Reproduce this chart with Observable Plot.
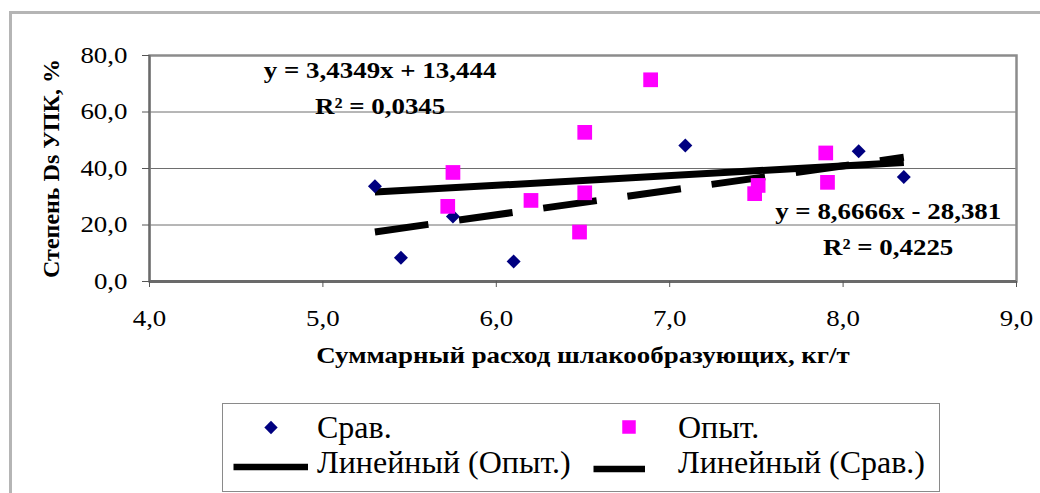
<!DOCTYPE html>
<html>
<head>
<meta charset="utf-8">
<script src="https://cdn.jsdelivr.net/npm/d3@7"></script>
<script src="https://cdn.jsdelivr.net/npm/@observablehq/plot@0.6"></script>
<style>
  html, body { margin: 0; padding: 0; background: #fff; }
  body { width: 1040px; height: 493px; position: relative; overflow: hidden;
         font-family: "Liberation Serif", "Times New Roman", serif; }
  #frame { position: absolute; left: 9px; top: 11px; width: 1100px; height: 600px;
           border: 3px solid #b5b5b5; box-sizing: border-box; }
  #chart { position: absolute; left: 0; top: 0; }
  #legend { position: absolute; left: 222px; top: 403px; width: 718px; height: 89px;
            border: 1px solid #8a8a8a; box-sizing: border-box; background: #fff; }
</style>
</head>
<body>
<div id="frame"></div>
<div id="chart"></div>
<div id="legend"></div>
<script>
// Series: total slag-former consumption (kg/t) vs. degree of Ds removal (%)
const seriesNames  = ["Срав.", "Опыт."];
const seriesColors = ["#000080", "#ff00ff"];

const sravX = [5.30, 5.45, 5.75, 6.10, 7.09, 8.09, 8.35];
const sravY = [33.7, 8.4, 23.0, 7.1, 48.1, 46.1, 37.0];

const opytX = [5.72, 5.75, 6.20, 6.48, 6.51, 6.51, 6.89, 7.49, 7.51, 7.90, 7.91];
const opytY = [26.6, 38.6, 28.7, 17.5, 31.4, 52.8, 71.4, 31.1, 34.0, 45.5, 35.1];

// Linear trend lines (Excel-style), first solid, second dashed
const trendNames      = ["Линейный (Опыт.)", "Линейный (Срав.)"];
const trendSlopes     = [3.4349, 8.6666];
const trendIntercepts = [13.444, -28.381];
const trendR2         = [0.0345, 0.4225];
const trendXRange     = [5.3, 8.35];

const xTicks = [4, 5, 6, 7, 8, 9];
const yTicks = [0, 20, 40, 60, 80];

const xTitle = "Суммарный расход шлакообразующих, кг/т";
const yTitle = "Степень Ds УПК, %";

// Helpers
const comma = v => String(v).replace(".", ",");
const tick1 = v => v.toFixed(1).replace(".", ",");
const equation = i => {
  const b = trendIntercepts[i];
  return `y = ${comma(trendSlopes[i])}x ${b < 0 ? "-" : "+"} ${comma(Math.abs(b))}\nR² = ${comma(trendR2[i])}`;
};

const sravData = sravX.map((x, i) => ({x, y: sravY[i]}));
const opytData = opytX.map((x, i) => ({x, y: opytY[i]}));
const trendLine = i => trendXRange.map(x => ({x, y: trendSlopes[i] * x + trendIntercepts[i]}));

const serif = "'Liberation Serif', 'Times New Roman', serif";

const chart = Plot.plot({
  width: 1040,
  height: 493,
  marginLeft: 149,
  marginRight: 24,
  marginTop: 55,
  marginBottom: 212,
  style: {fontSize: "23px", background: "transparent", color: "#000"},
  x: {domain: [4, 9]},
  y: {domain: [0, 80]},
  marks: [
    Plot.gridY(yTicks, {stroke: "#6e6e6e", strokeOpacity: 1, strokeWidth: 1}),
    Plot.frame({stroke: "#8c8c8c", strokeWidth: 2.5}),
    Plot.ruleX([4], {stroke: "#6a6a6a", strokeWidth: 2}),
    Plot.ruleY([0], {stroke: "#6a6a6a", strokeWidth: 3}),
    Plot.axisY(yTicks, {tickSize: 7, tickPadding: 15, tickFormat: tick1, label: null,
                        stroke: "#555", fontSize: 23, fill: "#000"}),
    Plot.axisX(xTicks, {tickSize: 6, tickPadding: 22, tickFormat: tick1, label: null,
                        stroke: "#555", fontSize: 23, fill: "#000"}),
    // trend lines
    Plot.line(trendLine(0), {x: "x", y: "y", stroke: "#000", strokeWidth: 7, strokeLinecap: "butt"}),
    Plot.line(trendLine(1), {x: "x", y: "y", stroke: "#000", strokeWidth: 7, strokeLinecap: "butt",
                             strokeDasharray: "54,31"}),
    // points
    Plot.dot(sravData, {x: "x", y: "y", symbol: "diamond2", r: 6.3, fill: seriesColors[0], stroke: "none"}),
    Plot.dot(opytData, {x: "x", y: "y", symbol: "square", r: 8.3, fill: seriesColors[1], stroke: "none"}),
    // trend equations
    Plot.text([equation(0)], {x: () => 5.33, y: () => 69.9, fontWeight: "bold", fontSize: 23,
                              lineHeight: 1.57, fill: "#000"}),
    Plot.text([equation(1)], {x: () => 8.26, y: () => 19.9, fontWeight: "bold", fontSize: 23,
                              lineHeight: 1.57, fill: "#000"}),
    // axis titles
    Plot.text([xTitle], {frameAnchor: "bottom", dy: 81, fontWeight: "bold", fontSize: 24, fill: "#000"}),
    Plot.text([yTitle], {frameAnchor: "left", dx: -98, rotate: -90, textAnchor: "middle",
                         fontWeight: "bold", fontSize: 24, fill: "#000"})
  ]
});
d3.select(chart).selectAll("text").attr("font-family", serif);
document.getElementById("chart").append(chart);

// The chart's lettering is set wide: stretch horizontal texts (not the rotated title)
function widen(el, factor) {
  const parts = el.querySelectorAll("tspan");
  (parts.length ? Array.from(parts) : [el]).forEach(p => {
    const len = p.getComputedTextLength();
    if (len > 0) {
      p.setAttribute("textLength", (len * factor).toFixed(1));
      p.setAttribute("lengthAdjust", "spacingAndGlyphs");
    }
  });
}
chart.querySelectorAll("text").forEach(t => {
  if ((t.getAttribute("transform") || "").includes("rotate")) return;
  widen(t, t.textContent === xTitle ? 1.12 : 1.17);
});

// Legend
const legend = d3.select("#legend").append("svg")
  .attr("width", 716).attr("height", 87)
  .style("position", "absolute").style("left", "0px").style("top", "0px");

const legendItems = [
  {label: seriesNames[0], kind: "diamond", cx: 48,  cy: 23.5, tx: 94,  ty: 34},
  {label: seriesNames[1], kind: "square",  cx: 406, cy: 23,   tx: 455, ty: 34},
  {label: trendNames[0],  kind: "line",    x1: 10.5, x2: 85,  cy: 63, tx: 94,  ty: 69},
  {label: trendNames[1],  kind: "line",    x1: 370.5, x2: 422, cy: 65, tx: 455, ty: 69}
];
for (const it of legendItems) {
  if (it.kind === "diamond") {
    legend.append("path").attr("d", d3.symbol(d3.symbolDiamond2, Math.PI * 6.0 * 6.0)())
      .attr("transform", `translate(${it.cx},${it.cy})`).attr("fill", seriesColors[0]);
  } else if (it.kind === "square") {
    legend.append("path").attr("d", d3.symbol(d3.symbolSquare, 13.5 * 13.5)())
      .attr("transform", `translate(${it.cx},${it.cy})`).attr("fill", seriesColors[1]);
  } else {
    legend.append("line").attr("x1", it.x1).attr("x2", it.x2).attr("y1", it.cy).attr("y2", it.cy)
      .attr("stroke", "#000").attr("stroke-width", 6.5);
  }
  legend.append("text").attr("x", it.tx).attr("y", it.ty)
    .attr("font-family", serif).attr("font-size", 32).attr("fill", "#000").text(it.label);
}
</script>
</body>
</html>
